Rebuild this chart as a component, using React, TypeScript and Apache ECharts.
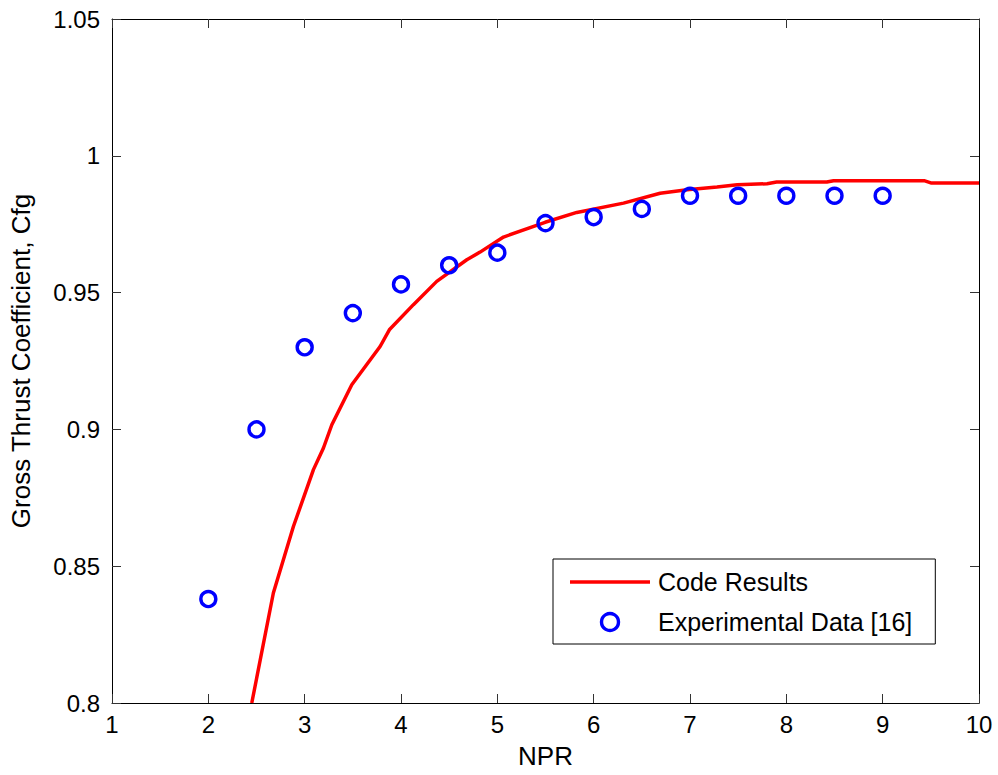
import React, { useEffect, useRef } from "react";
import * as echarts from "echarts";

const xTicks = [1, 2, 3, 4, 5, 6, 7, 8, 9, 10];
const yTicks = [0.8, 0.85, 0.9, 0.95, 1, 1.05];

const codeNPR = [2.451, 2.675, 2.883, 3.091, 3.195, 3.282, 3.489, 3.783, 3.879, 4.129, 4.371, 4.683, 4.821, 5.064, 5.496, 5.825, 6.31, 6.69, 6.97, 7.28, 7.49, 7.8, 7.9, 8.42, 8.49, 9.43, 9.5, 10];
const codeCfg = [0.8, 0.8402, 0.8645, 0.8853, 0.8932, 0.9017, 0.9163, 0.9303, 0.9364, 0.9456, 0.9541, 0.962, 0.9648, 0.9703, 0.9757, 0.9793, 0.9827, 0.9863, 0.9876, 0.9886, 0.9894, 0.9898, 0.9904, 0.9904, 0.9909, 0.9909, 0.9901, 0.9901];

const expNPR = [2, 2.5, 3, 3.5, 4, 4.5, 5, 5.5, 6, 6.5, 7, 7.5, 8, 8.5, 9];
const expCfg = [0.838, 0.9, 0.93, 0.9425, 0.953, 0.96, 0.9646, 0.9754, 0.9776, 0.9806, 0.9854, 0.9854, 0.9854, 0.9854, 0.9854];

const FONT = "'Liberation Sans', Arial, Helvetica, sans-serif";

export default function App() {
  const ref = useRef<HTMLDivElement>(null);
  useEffect(() => {
    document.body.style.margin = "0";
    const chart = echarts.init(ref.current!, undefined, { renderer: "svg" });
    const xMin = xTicks[0];
    const xMax = xTicks[xTicks.length - 1];
    const yMin = yTicks[0];
    const yMax = yTicks[yTicks.length - 1];
    const fmtY = (v: number) => String(parseFloat(v.toFixed(2)));
    const baseX = {
      type: "value" as const,
      min: xMin,
      max: xMax,
      interval: 1,
      splitLine: { show: false },
      axisLine: { show: true, onZero: false, lineStyle: { color: "#000", width: 1 } },
      axisTick: { show: true, inside: true, length: 9, lineStyle: { color: "#333", width: 1 } },
    };
    const baseY = {
      type: "value" as const,
      min: yMin,
      max: yMax,
      interval: 0.05,
      splitLine: { show: false },
      axisLine: { show: true, onZero: false, lineStyle: { color: "#000", width: 1 } },
      axisTick: { show: true, inside: true, length: 9, lineStyle: { color: "#333", width: 1 } },
    };
    const markerStyle = { color: "rgba(0,0,0,0)", borderColor: "#0000ff", borderWidth: 3.4, opacity: 1 };
    chart.setOption({
      animation: false,
      backgroundColor: "#fff",
      grid: { left: 112, right: 19, top: 19, bottom: 72, containLabel: false },
      xAxis: [
        {
          ...baseX,
          position: "bottom",
          name: "NPR",
          nameLocation: "middle",
          nameGap: 40,
          nameTextStyle: { fontFamily: FONT, fontSize: 26, color: "#000" },
          axisLabel: { show: true, margin: 9, fontFamily: FONT, fontSize: 24, color: "#000", showMinLabel: true, showMaxLabel: true },
        },
        { ...baseX, position: "top", axisLabel: { show: false } },
      ],
      yAxis: [
        {
          ...baseY,
          position: "left",
          name: "Gross Thrust Coefficient, Cfg",
          nameLocation: "middle",
          nameRotate: 90,
          nameGap: 78,
          nameTextStyle: { fontFamily: FONT, fontSize: 26, color: "#000" },
          axisLabel: { show: true, margin: 12, fontFamily: FONT, fontSize: 24, color: "#000", formatter: fmtY, showMinLabel: true, showMaxLabel: true },
        },
        { ...baseY, position: "right", axisLabel: { show: false } },
      ],
      legend: {
        orient: "vertical",
        left: 553,
        top: 559,
        padding: [8, 23, 7, 17],
        itemWidth: 80,
        itemHeight: 17,
        itemGap: 10,
        symbolKeepAspect: true,
        backgroundColor: "#fff",
        borderColor: "#000",
        borderWidth: 1,
        borderRadius: 0,
        textStyle: { fontFamily: FONT, fontSize: 25, color: "#000", lineHeight: 30, padding: [0, 0, 0, 3] },
        data: [
          { name: "Code Results", icon: "path://M0 0 H80 V3.5 H0 Z", itemStyle: { color: "#ff0000", opacity: 1 } },
          { name: "Experimental Data [16]", icon: "circle", itemStyle: markerStyle },
        ],
      },
      series: [
        {
          name: "Code Results",
          type: "line",
          data: codeNPR.map((x, i) => [x, codeCfg[i]]),
          symbol: "none",
          showSymbol: false,
          clip: true,
          lineStyle: { color: "#ff0000", width: 3.5 },
          itemStyle: { color: "#ff0000" },
          z: 2,
        },
        {
          name: "Experimental Data [16]",
          type: "scatter",
          data: expNPR.map((x, i) => [x, expCfg[i]]),
          symbol: "circle",
          symbolSize: 15,
          itemStyle: markerStyle,
          z: 3,
        },
      ],
    });
    return () => chart.dispose();
  }, []);
  return <div ref={ref} style={{ width: 998, height: 775 }} />;
}
